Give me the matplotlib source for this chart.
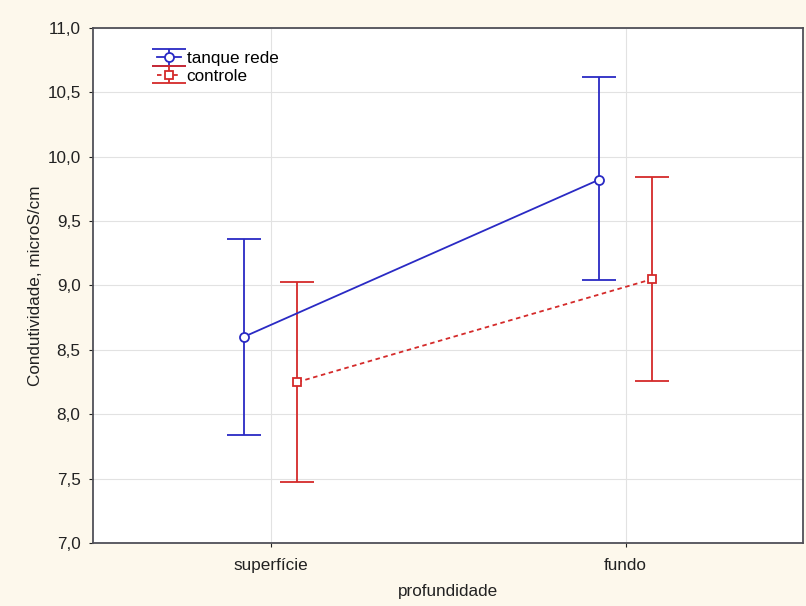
import matplotlib
matplotlib.use("Agg")
import matplotlib.pyplot as plt
import numpy as np

# Depth categories and conductivity means with confidence limits
categories = ["superfície", "fundo"]
tanque_mean = [8.60, 9.82]
tanque_upper = [9.36, 10.62]
tanque_lower = [7.84, 9.04]
controle_mean = [8.25, 9.05]
controle_upper = [9.03, 9.84]
controle_lower = [7.47, 8.26]
yticks = [7.0, 7.5, 8.0, 8.5, 9.0, 9.5, 10.0, 10.5, 11.0]

plt.rcParams["font.family"] = ["Liberation Sans", "DejaVu Sans"]

fig = plt.figure(figsize=(8.06, 6.06), dpi=100, facecolor="#fdf8ec")
ax = fig.add_axes([0.1154, 0.104, 0.8809, 0.8498])
ax.set_facecolor("white")

x = np.arange(len(categories))
off = 0.076
blue = "#2a2ac4"
red = "#d42a2a"
fs = 12.3

tm = np.array(tanque_mean)
cm = np.array(controle_mean)
t_err = [tm - np.array(tanque_lower), np.array(tanque_upper) - tm]
c_err = [cm - np.array(controle_lower), np.array(controle_upper) - cm]

ax.errorbar(x - off, tm, yerr=t_err, color=blue, lw=1.3, capsize=12.5,
            capthick=1.3, marker="o", ms=6.5, mfc="white", mec=blue, mew=1.3,
            label="tanque rede", zorder=3)
ax.errorbar(x + off, cm, yerr=c_err, color=red, lw=1.3, capsize=12.5,
            capthick=1.3, marker="s", ms=6, mfc="white", mec=red, mew=1.3,
            ls=(0, (2.5, 2)), label="controle", zorder=3)

ax.set_xlim(-0.5, 1.5)
ax.set_ylim(7.0, 11.0)
ax.set_xticks(x)
ax.set_xticklabels(categories)
ax.set_yticks(yticks)
ax.set_yticklabels([f"{v:.1f}".replace(".", ",") for v in yticks])

ax.grid(True, color="#e2e2e2", lw=0.8)
ax.set_axisbelow(True)
for s in ax.spines.values():
    s.set_color("#505058")
    s.set_linewidth(1.3)
ax.tick_params(colors="#222222", labelsize=fs, length=3, width=0.8, pad=6)
ax.tick_params(axis="x", pad=8)

ax.set_xlabel("profundidade", fontsize=fs, color="#222222", labelpad=8)
ax.set_ylabel("Condutividade, microS/cm", fontsize=fs, color="#222222",
              labelpad=3)

leg = ax.legend(loc="upper left", bbox_to_anchor=(0.08, 0.968), frameon=False,
                fontsize=fs, handlelength=1.4, handletextpad=0.35,
                labelspacing=0.15, borderaxespad=0)

fig.savefig("out.png", dpi=100, facecolor=fig.get_facecolor())
